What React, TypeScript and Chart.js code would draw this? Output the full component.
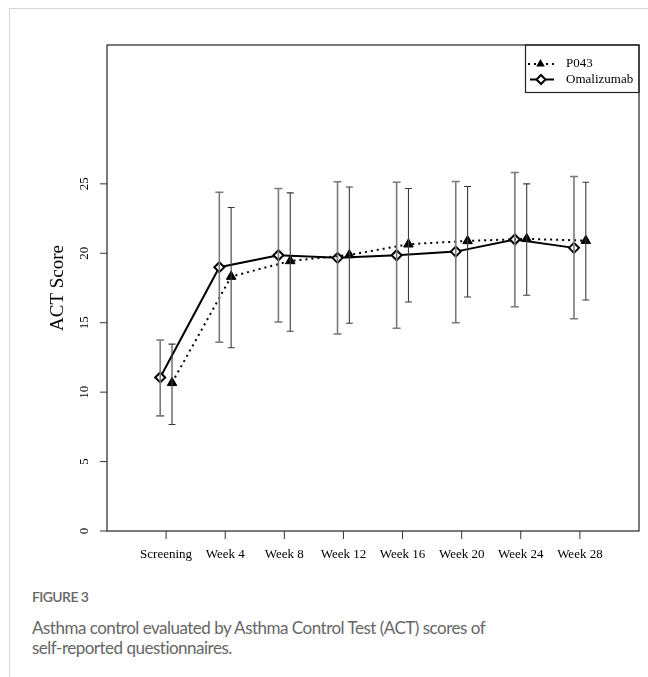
import React, { useEffect, useRef } from "react";
import { Chart, registerables } from "chart.js";

Chart.register(...registerables);

const categories = ["Screening", "Week 4", "Week 8", "Week 12", "Week 16", "Week 20", "Week 24", "Week 28"];
const yTicks = [0, 5, 10, 15, 20, 25];

const omaMean = [11.06, 19.0, 19.86, 19.67, 19.86, 20.12, 20.99, 20.39];
const omaUpper = [13.75, 24.4, 24.67, 25.15, 25.12, 25.17, 25.82, 25.53];
const omaLower = [8.29, 13.59, 15.05, 14.19, 14.6, 15.0, 16.15, 15.29];

const p043Mean = [10.67, 18.32, 19.45, 19.88, 20.65, 20.89, 21.04, 20.91];
const p043Upper = [13.46, 23.3, 24.35, 24.77, 24.67, 24.81, 25.0, 25.12];
const p043Lower = [7.67, 13.2, 14.38, 14.96, 16.49, 16.85, 16.98, 16.64];

const OFFSET = 0.1;
const SERIF = '"Liberation Serif", "Times New Roman", serif';

function drawDiamond(ctx: CanvasRenderingContext2D, x: number, y: number, r: number) {
  ctx.beginPath();
  ctx.moveTo(x, y - r);
  ctx.lineTo(x + r, y);
  ctx.lineTo(x, y + r);
  ctx.lineTo(x - r, y);
  ctx.closePath();
  ctx.fillStyle = "#fff";
  ctx.fill();
  ctx.lineWidth = 2;
  ctx.strokeStyle = "#000";
  ctx.stroke();
}

function drawTriangle(ctx: CanvasRenderingContext2D, x: number, y: number, r: number) {
  ctx.beginPath();
  ctx.moveTo(x, y - r);
  ctx.lineTo(x + r * 0.866, y + r * 0.5);
  ctx.lineTo(x - r * 0.866, y + r * 0.5);
  ctx.closePath();
  ctx.fillStyle = "#000";
  ctx.fill();
}

const decorPlugin = {
  id: "decor",
  afterDatasetsDraw(chart: any) {
    const ctx = chart.ctx as CanvasRenderingContext2D;
    const xs = chart.scales.x;
    const ys = chart.scales.y;
    ctx.save();
    const bars = [
      { lo: omaLower, hi: omaUpper, off: -OFFSET, color: "#7a7a7a", w: 1.6, cap: 4 },
      { lo: p043Lower, hi: p043Upper, off: OFFSET, color: "#3a3a3a", w: 1.1, cap: 3.5 },
    ];
    bars.forEach((b) => {
      ctx.strokeStyle = b.color;
      ctx.lineWidth = b.w;
      b.lo.forEach((lo, i) => {
        const x = xs.getPixelForValue(i + 1 + b.off);
        const y1 = ys.getPixelForValue(lo);
        const y2 = ys.getPixelForValue(b.hi[i]);
        ctx.beginPath();
        ctx.moveTo(x, y1);
        ctx.lineTo(x, y2);
        ctx.moveTo(x - b.cap, y1);
        ctx.lineTo(x + b.cap, y1);
        ctx.moveTo(x - b.cap, y2);
        ctx.lineTo(x + b.cap, y2);
        ctx.stroke();
      });
    });
    ctx.restore();
  },
  afterDraw(chart: any) {
    const ctx = chart.ctx as CanvasRenderingContext2D;
    const xs = chart.scales.x;
    const ys = chart.scales.y;
    const a = chart.chartArea;
    ctx.save();
    // box
    ctx.strokeStyle = "#222";
    ctx.lineWidth = 1.2;
    ctx.strokeRect(a.left, a.top, a.right - a.left, a.bottom - a.top);
    // y ticks
    ctx.font = "13px " + SERIF;
    ctx.fillStyle = "#000";
    ctx.lineWidth = 1;
    ctx.strokeStyle = "#333";
    yTicks.forEach((v) => {
      const y = ys.getPixelForValue(v);
      ctx.beginPath();
      ctx.moveTo(a.left, y);
      ctx.lineTo(a.left - 7, y);
      ctx.stroke();
      ctx.save();
      ctx.translate(84.5, y);
      ctx.rotate(-Math.PI / 2);
      ctx.textAlign = "center";
      ctx.textBaseline = "middle";
      ctx.fillText(String(v), 0, 0);
      ctx.restore();
    });
    // x ticks
    categories.forEach((c, i) => {
      const x = xs.getPixelForValue(i + 1);
      ctx.beginPath();
      ctx.moveTo(x, a.bottom);
      ctx.lineTo(x, a.bottom + 8);
      ctx.stroke();
      ctx.textAlign = "center";
      ctx.textBaseline = "middle";
      ctx.fillText(c, x, 555);
    });
    // y title
    ctx.save();
    ctx.font = "19px " + SERIF;
    ctx.translate(58, (a.top + a.bottom) / 2);
    ctx.rotate(-Math.PI / 2);
    ctx.textAlign = "center";
    ctx.textBaseline = "middle";
    ctx.fillText("ACT Score", 0, 0);
    ctx.restore();
    // legend
    const lx = 525.5;
    const ly = a.top;
    ctx.strokeStyle = "#222";
    ctx.lineWidth = 1.2;
    ctx.strokeRect(lx, ly, a.right - lx, 92.5 - ly);
    // P043 sample
    ctx.strokeStyle = "#000";
    ctx.lineWidth = 2;
    ctx.setLineDash([2, 4]);
    ctx.beginPath();
    ctx.moveTo(528, 64);
    ctx.lineTo(554, 64);
    ctx.stroke();
    ctx.setLineDash([]);
    drawTriangle(ctx, 540.5, 64, 5);
    // Omalizumab sample
    ctx.beginPath();
    ctx.moveTo(530, 79.5);
    ctx.lineTo(554, 79.5);
    ctx.lineWidth = 2;
    ctx.stroke();
    drawDiamond(ctx, 541, 79.5, 4.5);
    ctx.font = "13px " + SERIF;
    ctx.fillStyle = "#000";
    ctx.textAlign = "left";
    ctx.textBaseline = "middle";
    ctx.fillText("P043", 566, 64);
    ctx.fillText("Omalizumab", 566, 79.5);
    ctx.restore();
  },
};

export default function App() {
  const ref = useRef<HTMLCanvasElement | null>(null);
  useEffect(() => {
    if (!ref.current) return;
    const chart = new Chart(ref.current, {
      type: "line",
      data: {
        datasets: [
          {
            label: "P043",
            data: p043Mean.map((v, i) => ({ x: i + 1 + OFFSET, y: v })),
            borderColor: "#000",
            borderWidth: 2,
            borderDash: [2, 4],
            pointStyle: "triangle",
            pointRadius: 5.5,
            pointBackgroundColor: "#000",
            pointBorderColor: "#000",
            pointBorderWidth: 1,
            tension: 0,
          },
          {
            label: "Omalizumab",
            data: omaMean.map((v, i) => ({ x: i + 1 - OFFSET, y: v })),
            borderColor: "#000",
            borderWidth: 2,
            pointStyle: "rectRot",
            pointRadius: 5,
            pointBackgroundColor: "#fff",
            pointBorderColor: "#000",
            pointBorderWidth: 2,
            tension: 0,
          },
        ],
      },
      options: {
        animation: false,
        responsive: false,
        devicePixelRatio: 1,
        layout: { padding: { left: 0, top: 45, right: 9, bottom: 9 } },
        plugins: { legend: { display: false }, tooltip: { enabled: false } },
        scales: {
          x: {
            type: "linear",
            min: 0,
            max: 9,
            afterBuildTicks: (s: any) => {
              s.ticks = categories.map((_, i) => ({ value: i + 1 }));
            },
            ticks: { display: false },
            grid: { display: false },
            border: { display: false },
            afterFit: (s: any) => {
              s.height = 40;
            },
          },
          y: {
            type: "linear",
            min: 0,
            max: 35,
            afterBuildTicks: (s: any) => {
              s.ticks = yTicks.map((v) => ({ value: v }));
            },
            ticks: { display: false },
            grid: { display: false },
            border: { display: false },
            afterFit: (s: any) => {
              s.width = 107;
            },
          },
        },
      },
      plugins: [decorPlugin],
    } as any);
    return () => chart.destroy();
  }, []);

  return (
    <div style={{ position: "absolute", left: 0, top: 0, width: 648, height: 677, background: "#fff" }}>
      <div
        style={{
          position: "absolute",
          left: 9,
          top: 8,
          width: 639,
          height: 669,
          borderTop: "1px solid #d4d4d4",
          borderLeft: "1px solid #d4d4d4",
        }}
      />
      <canvas ref={ref} width={648} height={580} style={{ position: "absolute", left: 0, top: 0, width: 648, height: 580 }} />
      <div
        style={{
          position: "absolute",
          left: 32,
          top: 588,
          fontFamily: "Lato, 'Open Sans', sans-serif",
          fontSize: 14,
          lineHeight: "18px",
          letterSpacing: "-0.6px",
          color: "#666",
          fontWeight: 600,
        }}
      >
        FIGURE 3
      </div>
      <div
        style={{
          position: "absolute",
          left: 32,
          top: 618,
          width: 560,
          fontFamily: "Lato, 'Open Sans', sans-serif",
          fontSize: 17,
          lineHeight: "20px",
          letterSpacing: "-0.5px",
          color: "#666",
        }}
      >
        Asthma control evaluated by Asthma Control Test (ACT) scores of
        <br />
        self-reported questionnaires.
      </div>
    </div>
  );
}
